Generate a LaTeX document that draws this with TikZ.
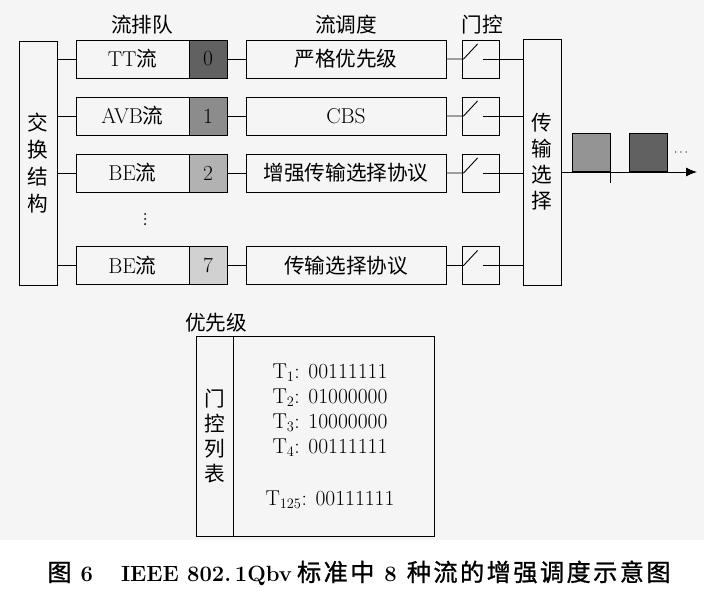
\documentclass[tikz,border=0pt]{standalone}
\usepackage{fontspec}
\newfontfamily\cjk[Scale=0.96]{Noto Sans CJK SC}
\newfontfamily\cjkcap[Scale=1.1,LetterSpace=10,FakeBold=1]{Noto Sans CJK SC}
\usetikzlibrary{arrows.meta}

\begin{document}
\begin{tikzpicture}[
x=1pt,
y=-1pt,
line width=0.9pt,
every node/.style={
    font=\fontsize{21.5}{26}\selectfont,
    inner sep=0pt
},
box/.style={
    draw,
    rectangle,
    minimum height=38pt
},
queue/.style={box, minimum width=113pt},
prio/.style={box, minimum width=38pt},
sched/.style={box, minimum width=200pt},
gate/.style={box, minimum width=37pt},
tall/.style={box, minimum width=38pt, align=center},
pkt/.style={box, minimum width=38pt, anchor=south west}
]

\fill[black!4] (0,0) rectangle (704,540);
\useasboundingbox (0,0) rectangle (704,602);

%---------------- Headings ----------------
\node (hq) at (142,25) {\cjk 流排队};
\node (hs) at (346,25) {\cjk 流调度};
\node (hg) at (482,25) {\cjk 门控};

%---------------- Side blocks ----------------
\node[tall, minimum height=244pt, font=\fontsize{21.5}{27}\selectfont\cjk] (sw) at (38,163) {交\\换\\结\\构};
\node[tall, minimum height=246pt, font=\fontsize{21.5}{26}\selectfont\cjk] (sel) at (542,162) {传\\输\\选\\择};

%---------------- Queues ----------------
\node[queue] (q0) at (132.5,59) {TT{\cjk 流}};
\node[prio, fill=black!62] (p0) at (208,59) {0};
\node[sched] (s0) at (346,59) {\cjk 严格优先级};
\node[gate] (g0) at (480.5,59) {};

\node[queue] (q1) at (132.5,116) {AVB{\cjk 流}};
\node[prio, fill=black!45] (p1) at (208,116) {1};
\node[sched] (s1) at (346,116) {CBS};
\node[gate] (g1) at (480.5,116) {};

\node[queue] (q2) at (132.5,173) {BE{\cjk 流}};
\node[prio, fill=black!30] (p2) at (208,173) {2};
\node[sched] (s2) at (346,173) {\cjk 增强传输选择协议};
\node[gate] (g2) at (480.5,173) {};

\coordinate (vd) at (145,219);
\fill (vd) ++(0,-5) circle (1pt) (vd) circle (1pt) (vd) ++(0,5) circle (1pt);

\node[queue] (q7) at (132.5,265.5) {BE{\cjk 流}};
\node[prio, fill=black!18] (p7) at (208,265.5) {7};
\node[sched] (s7) at (346,265.5) {\cjk 传输选择协议};
\node[gate] (g7) at (480.5,265.5) {};

\draw (sw.east |- q0) -- (q0.west);
\draw (sw.east |- q1) -- (q1.west);
\draw (sw.east |- q2) -- (q2.west);
\draw (sw.east |- q7) -- (q7.west);

\draw (p0) -- (s0);
\draw (p1) -- (s1);
\draw (p2) -- (s2);
\draw (p7) -- (s7);

% gate switches
\draw (s0.east) -- ([xshift=2pt]g0.west) -- ++(14,-15);
\draw ([xshift=21pt]g0.west) -- (sel.west |- g0);
\draw (s1.east) -- ([xshift=2pt]g1.west) -- ++(14,-15);
\draw ([xshift=21pt]g1.west) -- (sel.west |- g1);
\draw (s2.east) -- ([xshift=2pt]g2.west) -- ++(14,-15);
\draw ([xshift=21pt]g2.west) -- (sel.west |- g2);
\draw (s7.east) -- ([xshift=2pt]g7.west) -- ++(14,-15);
\draw ([xshift=21pt]g7.west) -- (sel.west |- g7);

%---------------- Output ----------------
\coordinate (outend) at (697,172);
\draw[-{Latex[length=11pt,width=9pt]}] (sel.east |- outend) -- (outend);
\node[pkt, fill=black!42] (pk1) at (572,172) {};
\node[pkt, fill=black!62] (pk2) at (629,172) {};
\draw (pk1.south east) -- ++(0,11);
\node[font=\fontsize{12}{12}\selectfont] (more) at (681,153) {$\cdots$};

%---------------- Gate control list ----------------
\node (hl) at (216,323) {\cjk 优先级};
\node[draw, minimum width=238pt, minimum height=200pt] (gcl) at (315,436) {};
\node[draw, minimum width=37pt, minimum height=200pt, anchor=north west, align=center,
      font=\fontsize{21.5}{25}\selectfont\cjk] (gside) at (gcl.north west) {门\\控\\列\\表};
\node (t1) at (330,373) {T$_1$: 00111111};
\node (t2) at (330,398) {T$_2$: 01000000};
\node (t3) at (330,423) {T$_3$: 10000000};
\node (t4) at (330,448) {T$_4$: 00111111};
\node (t125) at (330,500) {T$_{125}$: 00111111};

%---------------- Caption ----------------
\node[font=\fontsize{22}{26}\selectfont\bfseries, anchor=west] (cap) at (47,573)
  {{\mdseries\cjkcap 图}\hspace{9pt}6\hspace{28pt}IEEE 802.\,1Qbv\hspace{5pt}{\mdseries\cjkcap 标准中}\hspace{10pt}8\hspace{10pt}{\mdseries\cjkcap 种流的增强调度示意图}};

\end{tikzpicture}
\end{document}
